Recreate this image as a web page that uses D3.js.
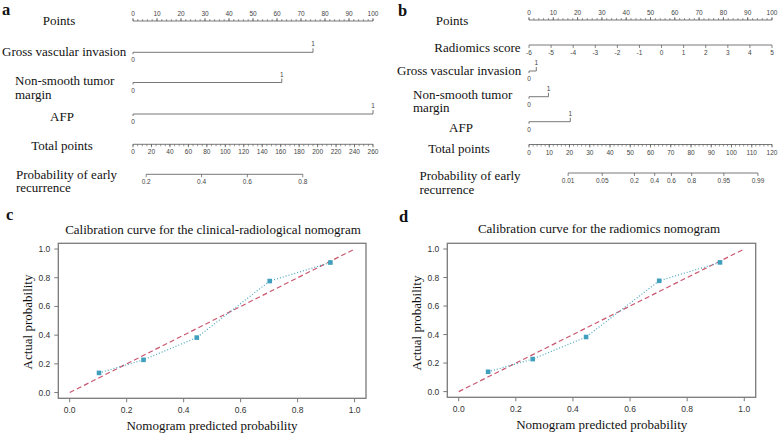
<!DOCTYPE html>
<html>
<head>
<meta charset="utf-8">
<script src="https://cdn.jsdelivr.net/npm/d3@7"></script>
<style>
  body { margin: 0; background: #fff; }
  svg { opacity: 0.999; }
  svg text { font-family: "Liberation Serif", "Times New Roman", serif; fill: #111; }
  svg text.tk { font-family: "Liberation Sans", Arial, sans-serif; font-size: 6.5px; fill: #444; }
  svg text.ctk { font-family: "Liberation Sans", Arial, sans-serif; font-size: 8.5px; fill: #333; }
</style>
</head>
<body>
<div id="chart"></div>
<script>
// ---- nomogram a (clinical-radiological) ----
var pointTicks = d3.range(0, 101, 10);
var varsA = ["Gross vascular invasion", "Non-smooth tumor margin", "AFP"];
var varPointsA = [75, 62, 100];           // points given to level "1"
var totalTicksA = d3.range(0, 261, 20);
var probTicksA = [0.2, 0.4, 0.6, 0.8];
var probModelA = {center: 99.1, perLogit: 61.2};   // total points at p = 0.5, points per logit

// ---- nomogram b (radiomics) ----
var radTicks = d3.range(-6, 6, 1);
var varsB = ["Gross vascular invasion", "Non-smooth tumor margin", "AFP"];
var varPointsB = [3, 8, 17];
var totalTicksB = d3.range(0, 121, 10);
var probTicksB = [0.01, 0.05, 0.2, 0.4, 0.6, 0.8, 0.95, 0.99];
var probModelB = {center: 66.2, perLogit: 10.2};

// ---- calibration curves ----
var calTicks = [0, 0.2, 0.4, 0.6, 0.8, 1.0];
var predC = [0.103, 0.259, 0.446, 0.702, 0.915];
var actualC = [0.137, 0.228, 0.383, 0.777, 0.906];
var predD = [0.103, 0.259, 0.446, 0.702, 0.915];
var actualD = [0.139, 0.228, 0.383, 0.777, 0.906];

var svg = d3.select("#chart").append("svg")
  .attr("width", 778)
  .attr("height", 435);

var lineCol = "#555";

// horizontal axis: line, major/minor ticks and labels
function hAxis(scale, y, ticks, minor, up, labelsAbove, fmt) {
  var g = svg.append("g");
  var r = d3.extent(ticks.map(scale));
  g.append("line")
    .attr("x1", r[0]).attr("x2", r[1])
    .attr("y1", y).attr("y2", y)
    .style("stroke", lineCol).style("stroke-width", 0.8);
  var dir = up ? -1 : 1;
  g.selectAll(".mn").data(minor).enter().append("line")
    .attr("x1", function(d) { return scale(d); })
    .attr("x2", function(d) { return scale(d); })
    .attr("y1", y).attr("y2", y + dir * 2)
    .style("stroke", lineCol).style("stroke-width", 0.6);
  g.selectAll(".mj").data(ticks).enter().append("line")
    .attr("x1", function(d) { return scale(d); })
    .attr("x2", function(d) { return scale(d); })
    .attr("y1", y).attr("y2", y + dir * 3)
    .style("stroke", lineCol).style("stroke-width", 0.7);
  g.selectAll("text").data(ticks).enter().append("text")
    .attr("class", "tk")
    .attr("x", function(d) { return scale(d); })
    .attr("y", labelsAbove ? y - 5 : y + 10)
    .attr("text-anchor", "middle")
    .text(fmt || function(d) { return d; });
}

// 0/1 variable axis
function binAxis(scale, y, pts) {
  var g = svg.append("g");
  var x0 = scale(0), x1 = scale(pts);
  g.append("path")
    .attr("d", "M" + x0 + "," + (y + 2) + "V" + y + "H" + x1 + "V" + (y - 4))
    .style("fill", "none").style("stroke", lineCol).style("stroke-width", 0.8);
  g.append("text").attr("class", "tk").attr("x", x0).attr("y", y + 10)
    .attr("text-anchor", "middle").text("0");
  g.append("text").attr("class", "tk").attr("x", x1).attr("y", y - 6)
    .attr("text-anchor", "middle").text("1");
}

function label(lines, x, y, anchor, size, lh) {
  var t = svg.append("text")
    .attr("x", x).attr("y", y)
    .attr("text-anchor", anchor)
    .style("font-size", size + "px");
  lines.forEach(function(s, i) {
    t.append("tspan").attr("x", x).attr("dy", i == 0 ? 0 : lh).text(s);
  });
}

function panelLetter(s, x, y) {
  svg.append("text").attr("x", x).attr("y", y)
    .style("font-size", "16.5px").style("font-weight", "bold").text(s);
}

function probScale(model, totalScale) {
  // probability -> total points -> x
  return function(p) {
    var lg = Math.log(p / (1 - p));
    return totalScale(model.center + lg * model.perLogit);
  };
}

// ================= panel a =================
(function() {
  var x0 = 133, x1 = 373;
  var sp = d3.scaleLinear().domain([0, 100]).range([x0, x1]);
  var st = d3.scaleLinear().domain([0, 260]).range([x0, x1]);
  var rows = [52.3, 82.5, 114];

  panelLetter("a", 2, 15);
  label(["Points"], 59, 25, "middle", 13);
  hAxis(sp, 21, pointTicks, d3.range(0, 101, 2), true, true);

  label([varsA[0]], 2, 55.5, "start", 13);
  label(["Non-smooth tumor", "margin"], 15, 84.5, "start", 13, 14);
  label([varsA[2]], 62, 120.5, "middle", 13);
  varPointsA.forEach(function(p, i) { binAxis(sp, rows[i], p); });

  label(["Total points"], 62, 150, "middle", 13);
  hAxis(st, 144.3, totalTicksA, d3.range(0, 261, 5), false, false);

  label(["Probability of early", "recurrence"], 16, 178.5, "start", 13, 13.5);
  hAxis(probScale(probModelA, st), 174.3, probTicksA, [], false, false);
})();

// ================= panel b =================
(function() {
  var x0 = 529, x1 = 772;
  var sp = d3.scaleLinear().domain([0, 100]).range([x0, x1]);
  var sr = d3.scaleLinear().domain([-6, 5]).range([x0, x1]);
  var st = d3.scaleLinear().domain([0, 120]).range([x0, x1]);
  var rows = [71, 96.7, 121.7];

  panelLetter("b", 398, 15.5);
  label(["Points"], 452, 24.5, "middle", 13);
  hAxis(sp, 20, pointTicks, d3.range(0, 101, 2), true, true);

  label(["Radiomics score"], 477.5, 51.5, "middle", 13);
  hAxis(sr, 45, radTicks, [], false, false);

  label([varsB[0]], 397, 75, "start", 13);
  label(["Non-smooth tumor", "margin"], 413, 98.5, "start", 13, 13.5);
  label([varsB[2]], 461, 131.5, "middle", 13);
  varPointsB.forEach(function(p, i) { binAxis(sp, rows[i], p); });

  label(["Total points"], 459, 153, "middle", 13);
  hAxis(st, 144.5, totalTicksB, d3.range(0, 121, 2), false, false);

  label(["Probability of early", "recurrence"], 419.5, 180, "start", 13, 13.5);
  hAxis(probScale(probModelB, st), 173, probTicksB, [], false, false);
})();

// ================= calibration panels =================
function calPanel(cfg, pred, actual) {
  var x = d3.scaleLinear().domain([-0.04, 1.04]).range([cfg.left, cfg.right]);
  var y = d3.scaleLinear().domain([-0.04, 1.04]).range([cfg.bottom, cfg.top]);
  var g = svg.append("g");

  g.append("rect")
    .attr("x", cfg.left).attr("y", cfg.top)
    .attr("width", cfg.right - cfg.left).attr("height", cfg.bottom - cfg.top)
    .style("fill", "none").style("stroke", "#7a7a7a").style("stroke-width", 1.3);

  // ticks
  g.selectAll(".xt").data(calTicks).enter().append("line")
    .attr("x1", function(d) { return x(d); }).attr("x2", function(d) { return x(d); })
    .attr("y1", cfg.bottom).attr("y2", cfg.bottom + 4)
    .style("stroke", "#7a7a7a");
  g.selectAll(".yt").data(calTicks).enter().append("line")
    .attr("y1", function(d) { return y(d); }).attr("y2", function(d) { return y(d); })
    .attr("x1", cfg.left).attr("x2", cfg.left - 4)
    .style("stroke", "#7a7a7a");
  g.selectAll(".xl").data(calTicks).enter().append("text")
    .attr("class", "ctk")
    .attr("x", function(d) { return x(d); }).attr("y", cfg.bottom + 15)
    .attr("text-anchor", "middle")
    .text(d3.format(".1f"));
  g.selectAll(".yl").data(calTicks).enter().append("text")
    .attr("class", "ctk")
    .attr("x", cfg.left - 8).attr("y", function(d) { return y(d) + 3; })
    .attr("text-anchor", "end")
    .text(d3.format(".1f"));

  // ideal line
  g.append("line")
    .attr("x1", x(0)).attr("y1", y(0)).attr("x2", x(1)).attr("y2", y(1))
    .style("stroke", "#c9566e").style("stroke-width", 1.2)
    .style("stroke-dasharray", "5,3");

  // apparent calibration
  var pts = pred.map(function(p, i) { return [p, actual[i]]; });
  g.append("path")
    .datum(pts)
    .attr("d", d3.line().x(function(d) { return x(d[0]); }).y(function(d) { return y(d[1]); }))
    .style("fill", "none").style("stroke", "#4aa7c0").style("stroke-width", 1.2)
    .style("stroke-dasharray", "1,2");
  g.selectAll(".pt").data(pts).enter().append("rect")
    .attr("x", function(d) { return x(d[0]) - 2.3; })
    .attr("y", function(d) { return y(d[1]) - 2.3; })
    .attr("width", 4.6).attr("height", 4.6)
    .style("fill", "#3f9fbd");

  label([cfg.title], cfg.titleX, cfg.titleY, "middle", 13);
  label(["Nomogram predicted probability"], cfg.xlabX, cfg.xlabY, "middle", 13);
  svg.append("text")
    .attr("transform", "translate(" + cfg.ylabX + "," + cfg.ylabY + ") rotate(-90)")
    .attr("text-anchor", "middle")
    .style("font-size", "13px")
    .text("Actual probability");
}

panelLetter("c", 6, 220);
calPanel({left: 58.3, right: 366, top: 243.3, bottom: 398.3,
  title: "Calibration curve for the clinical-radiological nomogram",
  titleX: 213, titleY: 234, xlabX: 212, xlabY: 430, ylabX: 32, ylabY: 322}, predC, actualC);

panelLetter("d", 399, 222);
calPanel({left: 447.3, right: 755.7, top: 243.3, bottom: 397.3,
  title: "Calibration curve for the radiomics nomogram",
  titleX: 599, titleY: 233, xlabX: 601.7, xlabY: 429, ylabX: 421, ylabY: 323}, predD, actualD);
</script>
</body>
</html>
